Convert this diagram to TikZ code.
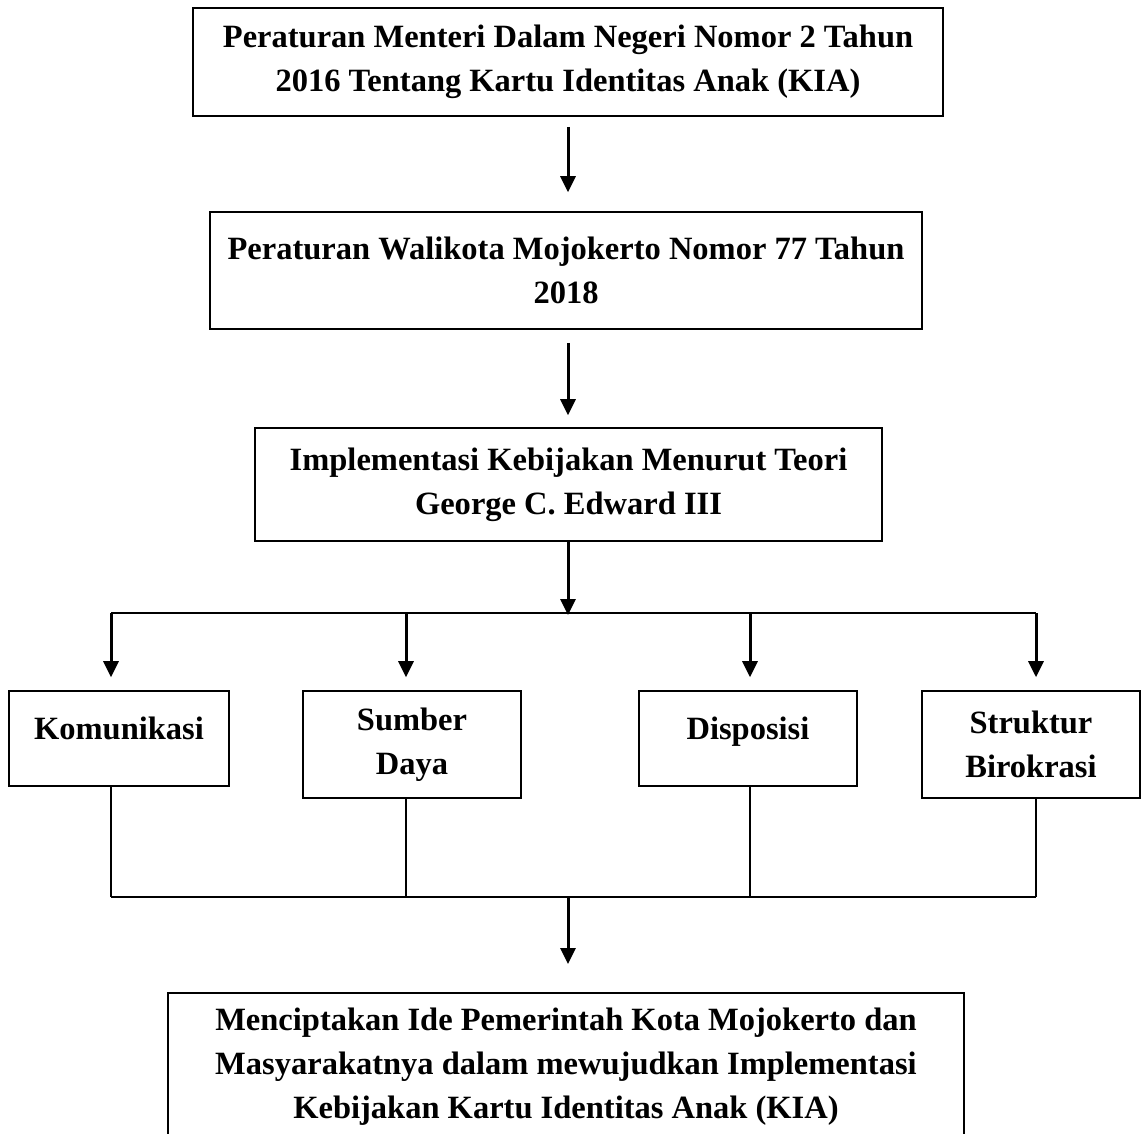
\documentclass[tikz,border=0pt]{standalone}
\usepackage{fontspec}
\setmainfont{Liberation Serif}
\usetikzlibrary{arrows.meta}

\begin{document}
\begin{tikzpicture}[x=1pt,y=-1pt,
    box/.style={draw,line width=1.6pt,align=center,inner sep=0pt,
      font=\fontsize{32.5}{44}\selectfont\bfseries},
    onebox/.style={box,text height=24pt,text depth=23pt},
    arr/.style={line width=3pt,-{Triangle[width=15pt,length=16pt]}},
    con/.style={line width=1.6pt}]
    \useasboundingbox (0,0) rectangle (1142,1133);
    \clip (0,0) rectangle (1142,1133);
    % dasar hukum
    \node[box,minimum width=750pt,minimum height=108pt] (permen) at (568,62)
      {Peraturan Menteri Dalam Negeri Nomor 2 Tahun\\2016 Tentang Kartu Identitas Anak (KIA)};
    \node[box,minimum width=712pt,minimum height=117pt] (perwali) at (566,270.5)
      {Peraturan Walikota Mojokerto Nomor 77 Tahun\\2018};
    \node[box,minimum width=627pt,minimum height=113pt] (teori) at (568.5,484.5)
      {Implementasi Kebijakan Menurut Teori\\George C. Edward III};
    % empat variabel
    \node[onebox,minimum width=220pt,minimum height=95pt] (kom) at (119,738.5) {Komunikasi};
    \node[box,minimum width=218pt,minimum height=107pt] (sum) at (412,744.5) {Sumber\\Daya};
    \node[onebox,minimum width=218pt,minimum height=95pt] (dis) at (748,738.5) {Disposisi};
    \node[box,minimum width=218pt,minimum height=107pt] (str) at (1031,744.5) {Struktur\\Birokrasi};
    % hasil
    \node[box,anchor=north,minimum width=796pt,minimum height=148pt] (hasil) at (566,992)
      {Menciptakan Ide Pemerintah Kota Mojokerto dan\\Masyarakatnya dalam mewujudkan Implementasi\\Kebijakan Kartu Identitas Anak (KIA)};

    \coordinate (split) at (568,613);
    \coordinate (join) at (568,897);
    \coordinate (b1) at (111,613);
    \coordinate (b2) at (406,613);
    \coordinate (b3) at (750,613);
    \coordinate (b4) at (1036,613);

    \draw[arr,shorten <=10pt,shorten >=19pt] (split |- permen.south) -- (split |- perwali.north);
    \draw[arr,shorten <=13pt,shorten >=12pt] (split |- perwali.south) -- (split |- teori.north);
    \draw[con] (b1) -- (b4);
    \draw[arr,shorten >=-2pt] (split |- teori.south) -- (split);
    \foreach \b/\n in {b1/kom,b2/sum,b3/dis,b4/str}{
      \draw[arr,shorten >=13pt] (\b) -- (\b |- \n.north);
      \draw[con] (\b |- \n.south) -- (\b |- join);
    }
    \draw[con] (b1 |- join) -- (b4 |- join);
    \draw[arr,shorten >=28pt] (join) -- (join |- hasil.north);
\end{tikzpicture}
\end{document}
